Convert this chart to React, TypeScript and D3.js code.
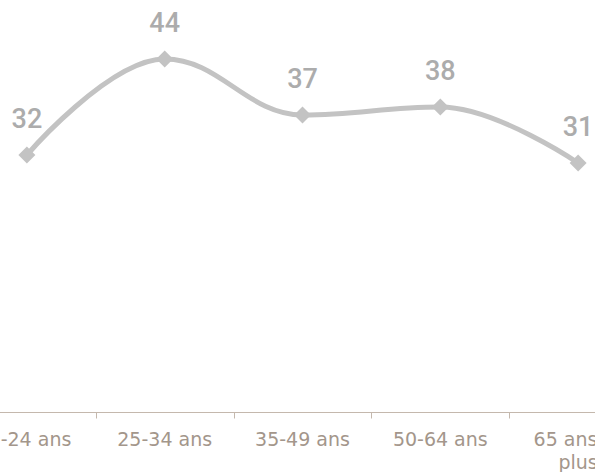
import React from "react";
import * as d3 from "d3";

const categories = ["18-24 ans", "25-34 ans", "35-49 ans", "50-64 ans", "65 ans et plus"];
const values = [32, 44, 37, 38, 31];
const labelLines = [["18-24 ans"], ["25-34 ans"], ["35-49 ans"], ["50-64 ans"], ["65 ans et", "plus"]];

const W = 595;
const H = 472;

type P = { x: number; y: number; rcx?: number; rcy?: number };

function splinePath(pts: P[]): string {
  const smoothing = 1.5;
  const denom = smoothing + 1;
  const path = d3.path();
  pts.forEach((p, i) => {
    if (i === 0) {
      path.moveTo(p.x, p.y);
      return;
    }
    const last = pts[i - 1];
    const next = pts[i + 1];
    let lcx: number | undefined;
    let lcy: number | undefined;
    if (next) {
      lcx = (smoothing * p.x + last.x) / denom;
      lcy = (smoothing * p.y + last.y) / denom;
      const rcx = (smoothing * p.x + next.x) / denom;
      let rcy = (smoothing * p.y + next.y) / denom;
      if (rcx !== lcx) {
        const corr = ((rcy - lcy) * (rcx - p.x)) / (rcx - lcx) + p.y - rcy;
        lcy += corr;
        rcy += corr;
      }
      if (lcy > last.y && lcy > p.y) {
        lcy = Math.max(last.y, p.y);
        rcy = 2 * p.y - lcy;
      } else if (lcy < last.y && lcy < p.y) {
        lcy = Math.min(last.y, p.y);
        rcy = 2 * p.y - lcy;
      }
      if (rcy > next.y && rcy > p.y) {
        rcy = Math.max(next.y, p.y);
        lcy = 2 * p.y - rcy;
      } else if (rcy < next.y && rcy < p.y) {
        rcy = Math.min(next.y, p.y);
        lcy = 2 * p.y - rcy;
      }
      p.rcx = rcx;
      p.rcy = rcy;
    }
    path.bezierCurveTo(
      last.rcx ?? last.x,
      last.rcy ?? last.y,
      lcx ?? p.x,
      lcy ?? p.y,
      p.x,
      p.y
    );
  });
  return path.toString();
}

export default function App() {
  const x = d3.scaleBand<string>().domain(categories).range([-42, 647]).padding(0);
  const y = d3.scaleLinear().domain([0, 50]).range([411, 11]);
  const cx = (c: string) => (x(c) as number) + x.bandwidth() / 2;
  const pts: P[] = categories.map((c, i) => ({ x: cx(c), y: y(values[i]) }));
  const d = splinePath(pts);
  const axisY = 412.5;
  const boundaries = categories.slice(1).map((c) => x(c) as number);
  const labelX = (c: string, i: number) => cx(c) - (i === 0 ? 3 : 0);

  return (
    <svg
      width={W}
      height={H}
      style={{ position: "absolute", left: 0, top: 0, display: "block" }}
    >
      <rect x={0} y={0} width={W} height={H} fill="#ffffff" />
      <line x1={0} x2={W} y1={axisY} y2={axisY} stroke="#c4b8ad" strokeWidth={1} />
      {boundaries.map((b, i) => (
        <line
          key={i}
          x1={Math.round(b) + 0.5}
          x2={Math.round(b) + 0.5}
          y1={axisY}
          y2={axisY + 6}
          stroke="#c4b8ad"
          strokeWidth={1}
        />
      ))}
      <path d={d} fill="none" stroke="#c3c3c3" strokeWidth={5} strokeLinejoin="round" strokeLinecap="round" />
      {pts.map((p, i) => (
        <path
          key={i}
          d={`M${p.x},${p.y - 8.5}L${p.x + 8.5},${p.y}L${p.x},${p.y + 8.5}L${p.x - 8.5},${p.y}Z`}
          fill="#c3c3c3"
        />
      ))}
      {pts.map((p, i) => (
        <text
          key={i}
          x={p.x}
          y={p.y - 27.5}
          textAnchor="middle"
          fontFamily="Roboto, sans-serif"
          fontSize={27}
          fontWeight={500}
          fill="#acacac"
        >
          {values[i]}
        </text>
      ))}
      {categories.map((c, i) => (
        <text
          key={c}
          x={labelX(c, i)}
          y={445.5}
          textAnchor="middle"
          fontFamily="DejaVu Sans, sans-serif"
          fontSize={19}
          fill="#a3968b"
        >
          {labelLines[i].map((l, j) => (
            <tspan key={j} x={labelX(c, i)} dy={j === 0 ? 0 : 23}>
              {l}
            </tspan>
          ))}
        </text>
      ))}
    </svg>
  );
}
